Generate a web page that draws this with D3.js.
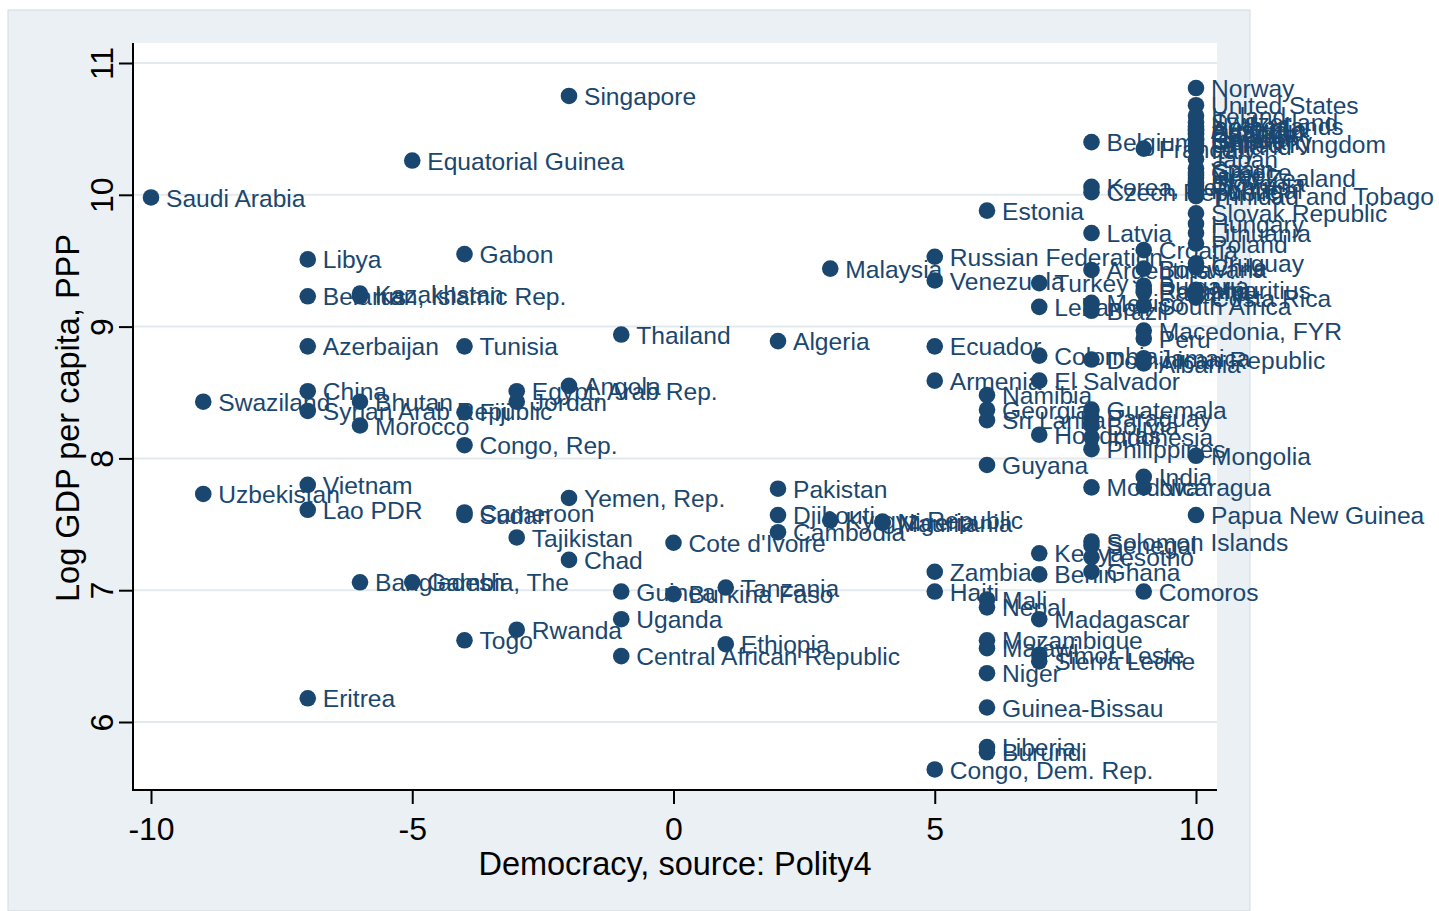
<!DOCTYPE html>
<html><head><meta charset="utf-8">
<script src="https://cdn.jsdelivr.net/npm/d3@7"></script>
<style>
body{margin:0;background:#fff}
svg{display:block}
text{font-family:"Liberation Sans",Arial,sans-serif}
</style>
</head><body>
<svg id="c" width="1439" height="911"></svg>
<script>
// ---- data ----
const countries = [
"Saudi Arabia","Singapore","Equatorial Guinea","Libya","Gabon","Belarus","Kazakhstan","Iran, Islamic Rep.",
"Azerbaijan","Tunisia","Thailand","Algeria","Malaysia","Swaziland","China","Syrian Arab Republic","Bhutan",
"Morocco","Fiji","Congo, Rep.","Egypt, Arab Rep.","Jordan","Angola","Uzbekistan","Vietnam","Lao PDR",
"Cameroon","Sudan","Yemen, Rep.","Tajikistan","Chad","Cote d'Ivoire","Pakistan","Djibouti","Cambodia",
"Kyrgyz Republic","Mauritania","Nigeria","Bangladesh","Gambia, The","Guinea","Burkina Faso","Tanzania",
"Uganda","Togo","Rwanda","Ethiopia","Central African Republic","Eritrea",
"Russian Federation","Venezuela","Estonia","Turkey","Lebanon","Ecuador","Armenia","Colombia",
"Dominican Republic","Jamaica","Albania","El Salvador","Namibia","Georgia","Sri Lanka","Honduras",
"Guatemala","Paraguay","Bolivia","Indonesia","Philippines","Mongolia","Guyana","India","Nicaragua",
"Moldova","Papua New Guinea","Solomon Islands","Senegal","Lesotho","Kenya","Benin","Ghana","Zambia",
"Haiti","Comoros","Mali","Nepal","Madagascar","Mozambique","Malawi","Timor-Leste","Sierra Leone",
"Niger","Guinea-Bissau","Liberia","Burundi","Congo, Dem. Rep.",
"Belgium","France","Korea, Rep.","Czech Republic","Latvia","Croatia","Botswana","Argentina","Romania",
"Bulgaria","Panama","Mexico","Brazil","South Africa","Macedonia, FYR","Peru",
"Norway","United States","Ireland","Switzerland","Netherlands","Australia","Austria","Denmark","Canada",
"Iceland","Sweden","Germany","United Kingdom","Finland","Italy","Japan","Spain","Greece","Israel",
"New Zealand","Slovenia","Cyprus","Portugal","Trinidad and Tobago","Slovak Republic","Hungary",
"Lithuania","Poland","Uruguay","Chile","Mauritius","Costa Rica"
];
const democracy = [
-10,-2,-5,-7,-4,-7,-6,-6,
-7,-4,-1,2,3,-9,-7,-7,-6,
-6,-4,-4,-3,-3,-2,-9,-7,-7,
-4,-4,-2,-3,-2,0,2,2,2,
3,4,4,-6,-5,-1,0,1,
-1,-4,-3,1,-1,-7,
5,5,6,7,7,5,5,7,
8,9,9,7,6,6,6,7,
8,8,8,8,8,10,6,9,9,
8,10,8,8,8,7,7,8,5,
5,9,6,6,7,6,6,7,7,
6,6,6,6,5,
8,9,8,8,8,9,9,8,9,
9,9,8,8,9,9,9,
10,10,10,10,10,10,10,10,10,
10,10,10,10,10,10,10,10,10,10,
10,10,10,10,10,10,10,
10,10,10,10,10,10
];
const logGdp = [
9.98,10.75,10.26,9.51,9.55,9.23,9.25,9.23,
8.85,8.85,8.94,8.89,9.44,8.43,8.51,8.36,8.43,
8.25,8.35,8.10,8.51,8.43,8.55,7.73,7.80,7.61,
7.59,7.57,7.70,7.40,7.23,7.36,7.77,7.57,7.44,
7.53,7.51,7.52,7.06,7.06,6.99,6.97,7.02,
6.78,6.62,6.70,6.59,6.50,6.18,
9.53,9.35,9.88,9.33,9.15,8.85,8.59,8.78,
8.75,8.76,8.72,8.59,8.48,8.37,8.29,8.18,
8.37,8.31,8.25,8.16,8.07,8.02,7.95,7.86,7.78,
7.78,7.57,7.37,7.34,7.25,7.28,7.12,7.14,7.14,
6.99,6.99,6.93,6.87,6.78,6.62,6.56,6.51,6.46,
6.37,6.11,5.81,5.77,5.64,
10.40,10.35,10.06,10.02,9.71,9.58,9.44,9.43,9.28,
9.31,9.26,9.18,9.12,9.16,8.97,8.91,
10.81,10.68,10.60,10.55,10.52,10.50,10.49,10.47,10.46,
10.43,10.42,10.41,10.39,10.37,10.34,10.27,10.20,10.17,10.15,
10.13,10.09,10.07,10.04,9.99,9.86,9.78,
9.71,9.63,9.48,9.45,9.28,9.22
];
const xTicks = [-10,-5,0,5,10];
const yTicks = [6,7,8,9,10,11];
const xTitle = "Democracy, source: Polity4";
const yTitle = "Log GDP per capita, PPP";

// ---- drawing ----
const svg = d3.select("#c");
const navy = "#1a476f";
const L = 133, R = 1217, T = 43, B = 790;
const fmt = d => String(d);

svg.append("rect").attr("x",8).attr("y",10).attr("width",1242).attr("height",901)
  .attr("fill","#eaf0f3").attr("stroke","#d3dce2").attr("stroke-width",1);
svg.append("rect").attr("x",L).attr("y",T).attr("width",R-L).attr("height",B-T).attr("fill","#fff");

const x = d3.scaleLinear().domain([-10,10]).range([151,1196]);
const y = d3.scaleLinear().domain([6,11]).range([722,63]);

// gridlines
svg.append("g").selectAll("line").data(yTicks).join("line")
  .attr("x1",L).attr("x2",R).attr("y1",d=>y(d)).attr("y2",d=>y(d))
  .attr("stroke","#e3eaee").attr("stroke-width",2);

// y axis
const ya = svg.append("g").attr("transform",`translate(${L},0)`)
  .call(d3.axisLeft(y).tickValues(yTicks).tickSize(14).tickPadding(6).tickFormat(fmt));
ya.select(".domain").remove();
ya.selectAll(".tick line").attr("stroke","#000").attr("stroke-width",2);
ya.selectAll(".tick text").attr("transform","rotate(-90)").attr("x",0).attr("y",-20).attr("dy",0)
  .attr("text-anchor","middle").attr("font-size",32).attr("fill","#000")
  .style("font-family",'"Liberation Sans",Arial,sans-serif');

// x axis
const xa = svg.append("g").attr("transform",`translate(0,${B})`)
  .call(d3.axisBottom(x).tickValues(xTicks).tickSize(14).tickPadding(6).tickFormat(fmt));
xa.select(".domain").remove();
xa.selectAll(".tick line").attr("stroke","#000").attr("stroke-width",2);
xa.selectAll(".tick text").attr("y",50).attr("dy",0).attr("font-size",32).attr("fill","#000")
  .style("font-family",'"Liberation Sans",Arial,sans-serif');

// axis lines
svg.append("line").attr("x1",L).attr("x2",L).attr("y1",T).attr("y2",B+1).attr("stroke","#000").attr("stroke-width",2);
svg.append("line").attr("x1",L-1).attr("x2",R).attr("y1",B).attr("y2",B).attr("stroke","#000").attr("stroke-width",2);

// titles
svg.append("text").attr("x",675).attr("y",875).attr("text-anchor","middle")
  .attr("font-size",32.5).attr("fill","#000").text(xTitle);
svg.append("text").attr("transform","translate(79,418) rotate(-90)").attr("text-anchor","middle")
  .attr("font-size",32.5).attr("fill","#000").text(yTitle);

// points + labels
const pts = countries.map((c,i)=>({c, d:democracy[i], g:logGdp[i]}));
const pg = svg.append("g").selectAll("g").data(pts).join("g");
pg.append("circle").attr("cx",p=>x(p.d)).attr("cy",p=>y(p.g)).attr("r",8.3).attr("fill",navy);
pg.append("text").attr("x",p=>x(p.d)+15).attr("y",p=>y(p.g)).attr("dy","0.37em")
  .attr("font-size",24.6).attr("fill",navy).text(p=>p.c);
</script>
</body></html>
